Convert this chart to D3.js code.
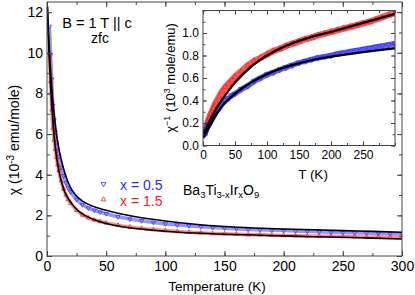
<!DOCTYPE html>
<html>
<head>
<meta charset="utf-8">
<script src="https://cdn.jsdelivr.net/npm/d3@7"></script>
<style>
body { margin: 0; background: #fff; }
text { font-family: "Liberation Sans", Arial, Helvetica, sans-serif; }
</style>
</head>
<body>
<svg id="chart" width="415" height="295"></svg>
<script>
// temperatures (K) of the read points
var temps = [2,3,4,5,6,7,8,9,10,12,14,16,18,20,25,30,35,40,45,50,
  60,70,80,90,100,110,120,130,140,150,160,170,180,190,200,
  210,220,230,240,250,260,270,280,290,300];

// chi (10^-3 emu/mole), main panel
var chiX05 = [11.3,9.9,8.7,7.4,6.7,6.1,5.6,5.2,4.9,4.35,3.95,3.6,3.35,3.15,2.78,2.52,2.36,2.25,2.16,2.08,
  1.93,1.82,1.73,1.65,1.58,1.53,1.48,1.44,1.40,1.37,1.34,1.31,1.29,1.27,1.25,
  1.23,1.21,1.19,1.17,1.16,1.14,1.13,1.11,1.10,1.09];
var chiX15 = [10.0,8.6,7.2,6.3,5.7,5.25,4.85,4.5,4.2,3.7,3.3,3.0,2.78,2.6,2.25,2.02,1.88,1.78,1.70,1.63,
  1.52,1.43,1.36,1.30,1.25,1.21,1.17,1.14,1.11,1.09,1.07,1.05,1.04,1.02,1.01,
  1.00,0.99,0.98,0.97,0.96,0.95,0.94,0.94,0.93,0.92];

// 1/chi (10^3 mole/emu), inset
var invX05 = [0.09,0.105,0.12,0.135,0.15,0.16,0.17,0.18,0.19,0.21,0.23,0.25,0.27,0.29,0.33,0.37,0.40,0.42,0.445,0.46,
  0.50,0.53,0.57,0.60,0.63,0.65,0.675,0.695,0.715,0.735,0.75,0.765,0.78,0.79,0.80,
  0.815,0.825,0.835,0.845,0.855,0.865,0.875,0.885,0.895,0.905];
var invX15 = [0.10,0.12,0.14,0.16,0.18,0.20,0.22,0.235,0.25,0.28,0.30,0.33,0.355,0.38,0.43,0.48,0.52,0.55,0.58,0.61,
  0.66,0.71,0.75,0.78,0.81,0.84,0.86,0.885,0.905,0.925,0.945,0.96,0.98,0.995,1.01,
  1.025,1.04,1.055,1.07,1.085,1.10,1.12,1.14,1.16,1.18];

// fit curves (black)
var fitT = [0.3,1,2,3,4,5,6,8,10,12,15,20,25,30,40,50,60,75,100,125,150,175,200,225,250,275,300];
var fitX05 = [12.3,11.3,10.1,9.1,8.3,7.6,7.0,6.0,5.3,4.75,4.1,3.35,2.95,2.7,2.42,2.25,2.1,1.93,1.72,1.56,1.45,1.38,1.33,1.29,1.25,1.21,1.17];
var fitX15 = [12.3,11.0,9.6,8.4,7.4,6.6,5.9,4.9,4.2,3.7,3.15,2.65,2.3,2.07,1.78,1.6,1.48,1.35,1.22,1.13,1.07,1.03,0.99,0.95,0.92,0.88,0.84];
var fitTi = [0,5,10,20,30,50,75,100,125,150,175,200,225,250,275,300];
var fitInvX05 = [0.07,0.12,0.17,0.27,0.35,0.46,0.56,0.635,0.69,0.73,0.765,0.79,0.81,0.83,0.848,0.865];
var fitInvX15 = [0.08,0.15,0.21,0.32,0.41,0.56,0.70,0.80,0.875,0.93,0.975,1.01,1.05,1.09,1.13,1.17];

var mainXTicks = [0,50,100,150,200,250,300];
var mainYTicks = [0,2,4,6,8,10,12];
var insetXTicks = [0,50,100,150,200,250];
var insetYTicks = [0,0.2,0.4,0.6,0.8,1.0];

var blue = "#2b2bff", red = "#ff2020", axisCol = "#444";

var svg = d3.select("#chart");

//----- main panel
var x = d3.scaleLinear().domain([0,300]).range([47,402]);
var y = d3.scaleLinear().domain([0,12.5]).range([256,2]);

function frameAxes(g, xs, ys, xt, yt, xminor, yminor, fmtY, fs, majorLen, minorLen) {
  var x0 = xs.range()[0], x1 = xs.range()[1], y0 = ys.range()[0], y1 = ys.range()[1];
  // bottom with labels
  g.append("g").attr("transform","translate(0,"+y0+")")
    .call(d3.axisBottom(xs).tickValues(xt).tickSizeInner(-majorLen).tickSizeOuter(0).tickPadding(5))
    .call(function(a){ a.select(".domain").remove(); a.selectAll("text").style("font-size",fs+"px").attr("fill","#000"); });
  g.append("g").attr("transform","translate(0,"+y0+")")
    .call(d3.axisBottom(xs).tickValues(xminor).tickSizeInner(-minorLen).tickSizeOuter(0).tickFormat(""))
    .call(function(a){ a.select(".domain").remove(); });
  // top
  g.append("g").attr("transform","translate(0,"+y1+")")
    .call(d3.axisTop(xs).tickValues(xminor).tickSizeInner(-minorLen).tickSizeOuter(0).tickFormat(""))
    .call(function(a){ a.select(".domain").remove(); });
  g.append("g").attr("transform","translate(0,"+y1+")")
    .call(d3.axisTop(xs).tickValues(xt).tickSizeInner(-majorLen).tickSizeOuter(0).tickFormat(""))
    .call(function(a){ a.select(".domain").remove(); });
  // left with labels
  g.append("g").attr("transform","translate("+x0+",0)")
    .call(d3.axisLeft(ys).tickValues(yt).tickSizeInner(-majorLen).tickSizeOuter(0).tickPadding(4).tickFormat(fmtY))
    .call(function(a){ a.select(".domain").remove(); a.selectAll("text").style("font-size",fs+"px").attr("fill","#000"); });
  g.append("g").attr("transform","translate("+x0+",0)")
    .call(d3.axisLeft(ys).tickValues(yminor).tickSizeInner(-minorLen).tickSizeOuter(0).tickFormat(""))
    .call(function(a){ a.select(".domain").remove(); });
  // right
  g.append("g").attr("transform","translate("+x1+",0)")
    .call(d3.axisRight(ys).tickValues(yt).tickSizeInner(-majorLen).tickSizeOuter(0).tickFormat(""))
    .call(function(a){ a.select(".domain").remove(); });
  g.append("g").attr("transform","translate("+x1+",0)")
    .call(d3.axisRight(ys).tickValues(yminor).tickSizeInner(-minorLen).tickSizeOuter(0).tickFormat(""))
    .call(function(a){ a.select(".domain").remove(); });
  g.selectAll(".tick line").attr("stroke",axisCol);
  g.append("rect").attr("x",x0).attr("y",y1).attr("width",x1-x0).attr("height",y0-y1)
    .attr("fill","none").attr("stroke",axisCol).attr("stroke-width",1);
}

svg.append("clipPath").attr("id","clipMain").append("rect")
  .attr("x",47).attr("y",2).attr("width",355).attr("height",254);

var mainData = svg.append("g").attr("clip-path","url(#clipMain)");

function drawSeries(g, xs, ys, vals, col, symType, band, size, op) {
  var pts = temps.map(function(t,i){ return [t, vals[i]]; });
  g.append("path").datum(pts)
    .attr("d", d3.line().x(function(d){return xs(d[0]);}).y(function(d){return ys(d[1]);}).curve(d3.curveMonotoneX))
    .attr("fill","none").attr("stroke",col).attr("stroke-width",band).attr("stroke-opacity",op);
  g.selectAll(null).data(pts).enter().append("path")
    .attr("transform",function(d){ return "translate("+xs(d[0])+","+ys(d[1])+")"+(symType==="down"?" rotate(180)":""); })
    .attr("d", d3.symbol().type(d3.symbolTriangle).size(size))
    .attr("fill","none").attr("stroke",col).attr("stroke-width",0.7);
}

function drawFit(g, xs, ys, tt, vals, w) {
  var pts = tt.map(function(t,i){ return [t, vals[i]]; });
  g.append("path").datum(pts)
    .attr("d", d3.line().x(function(d){return xs(d[0]);}).y(function(d){return ys(d[1]);}).curve(d3.curveMonotoneX))
    .attr("fill","none").attr("stroke","#000").attr("stroke-width",w);
}

drawSeries(mainData, x, y, chiX05, blue, "down", 3.5, 8, 0.5);
drawSeries(mainData, x, y, chiX15, red, "up", 3.5, 8, 0.5);
drawFit(mainData, x, y, fitT, fitX05, 1.6);
drawFit(mainData, x, y, fitT, fitX15, 1.6);

frameAxes(svg.append("g"), x, y, mainXTicks, mainYTicks,
  d3.range(0,301,25), d3.range(0,13,1), d3.format("d"), 14, 5, 3);

// axis titles
svg.append("text").attr("x",217).attr("y",291).attr("text-anchor","middle")
  .style("font-size","13.5px").text("Temperature  (K)");

var yt = svg.append("text").attr("transform","translate(19,140) rotate(-90)")
  .attr("text-anchor","middle").style("font-size","14px");
yt.append("tspan").text("\u03c7 (10");
yt.append("tspan").attr("dy",-5).style("font-size","10px").text("-3");
yt.append("tspan").attr("dy",5).text(" emu/mole)");

svg.append("text").attr("x",97).attr("y",28).attr("text-anchor","middle")
  .style("font-size","14.5px").text("B = 1 T || c");
svg.append("text").attr("x",100).attr("y",43).attr("text-anchor","middle")
  .style("font-size","14px").text("zfc");

// legend
var legend = [
  {label:"x = 0.5", col:blue, type:"down", ty:190, my:184},
  {label:"x = 1.5", col:red, type:"up", ty:206, my:199.5}
];
legend.forEach(function(l){
  svg.append("path").attr("transform","translate(103.5,"+l.my+")"+(l.type==="down"?" rotate(180)":""))
    .attr("d", d3.symbol().type(d3.symbolTriangle).size(10))
    .attr("fill","none").attr("stroke",l.col).attr("stroke-width",0.8);
  svg.append("text").attr("x",120).attr("y",l.ty).style("font-size","14px").attr("fill",l.col).text(l.label);
});

var form = svg.append("text").attr("x",183).attr("y",195).style("font-size","14px");
form.append("tspan").text("Ba");
form.append("tspan").attr("dy",3).style("font-size","9.5px").text("3");
form.append("tspan").attr("dy",-3).text("Ti");
form.append("tspan").attr("dy",3).style("font-size","9.5px").text("3-x");
form.append("tspan").attr("dy",-3).text("Ir");
form.append("tspan").attr("dy",3).style("font-size","9.5px").text("x");
form.append("tspan").attr("dy",-3).text("O");
form.append("tspan").attr("dy",3).style("font-size","9.5px").text("9");

//----- inset
var xi = d3.scaleLinear().domain([0,300]).range([203,395]);
var yi = d3.scaleLinear().domain([0,1.2]).range([145.5,10.5]);

svg.append("rect").attr("x",203).attr("y",10.5).attr("width",192).attr("height",135).attr("fill","#fff");
svg.append("clipPath").attr("id","clipInset").append("rect")
  .attr("x",203).attr("y",10.5).attr("width",192).attr("height",135);
var insetData = svg.append("g").attr("clip-path","url(#clipInset)");

drawSeries(insetData, xi, yi, invX15, red, "up", 6.5, 14, 0.75);
drawSeries(insetData, xi, yi, invX05, blue, "down", 5.5, 14, 0.75);
drawFit(insetData, xi, yi, fitTi, fitInvX05, 2.4);
drawFit(insetData, xi, yi, fitTi, fitInvX15, 2.4);

frameAxes(svg.append("g"), xi, yi, insetXTicks, insetYTicks,
  d3.range(0,301,25), d3.range(0,1.21,0.1), d3.format(".1f"), 12, 4, 2.5);

svg.append("text").attr("x",313).attr("y",179).attr("text-anchor","middle")
  .style("font-size","13.5px").text("T (K)");

var yti = svg.append("text").attr("transform","translate(175,78) rotate(-90)")
  .attr("text-anchor","middle").style("font-size","13px");
yti.append("tspan").text("\u03c7");
yti.append("tspan").attr("dy",-5).style("font-size","9px").text("\u22121");
yti.append("tspan").attr("dy",5).text(" (10");
yti.append("tspan").attr("dy",-5).style("font-size","9px").text("3");
yti.append("tspan").attr("dy",5).text(" mole/emu)");
</script>
</body>
</html>
